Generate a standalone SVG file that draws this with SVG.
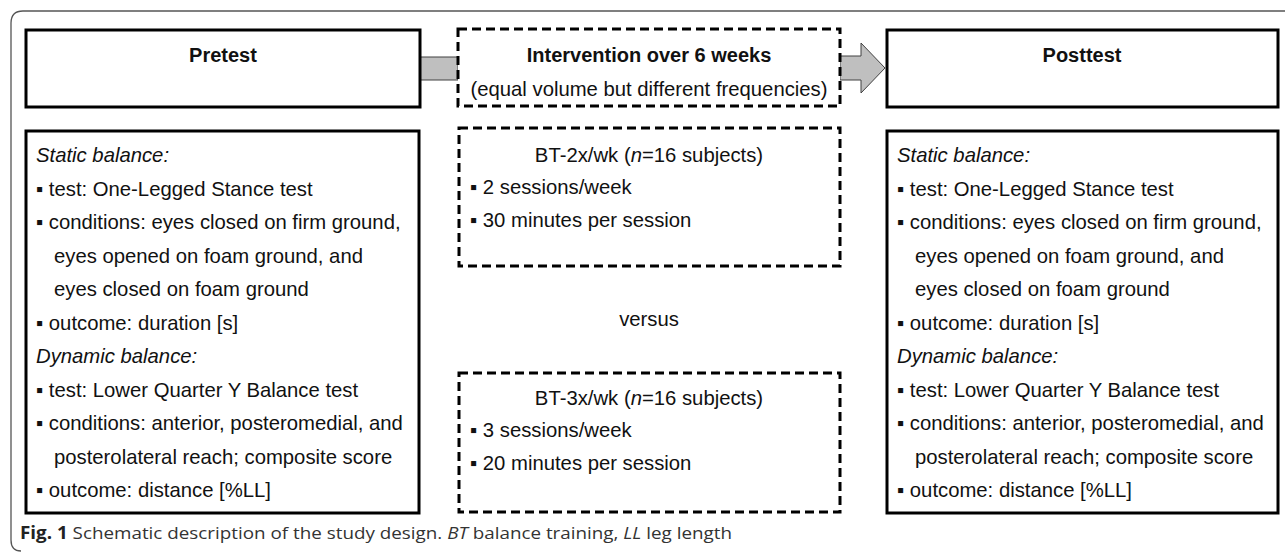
<svg xmlns="http://www.w3.org/2000/svg" width="1285" height="552" viewBox="0 0 1285 552">
<style>
.box{fill:#fff;stroke:#000;stroke-width:3}
.dash{fill:#fff;stroke:#000;stroke-width:3;stroke-dasharray:9,5}
.t{font-family:"Liberation Sans",Arial,sans-serif;font-size:20.3px;fill:#111}
.b{font-family:"Liberation Sans",Arial,sans-serif;font-size:20px;font-weight:bold;fill:#111}
.i{font-style:italic}
.c{text-anchor:middle}
.arr{fill:#bfbfbf;stroke:#404040;stroke-width:1}
.cap{font-family:"Open Sans","Noto Sans",sans-serif;font-size:17px;fill:#333}
</style>
<rect width="1285" height="552" fill="#fff"/>
<path d="M1285,11 H23 Q11,11 11,23 V540 Q11,551 21,551" fill="none" stroke="#555" stroke-width="1.3"/>
<g id="connectors">
<rect class="arr" x="420" y="57" width="38" height="23"/>
<polygon class="arr" points="840,56 861,56 861,43 885,68 861,93 861,80 840,80"/>
</g>
<g id="pretest">
<rect class="box" x="26" y="30" width="394" height="77"/>
<text class="b c" x="223" y="62">Pretest</text>
</g>
<g id="intervention">
<rect class="dash" x="458" y="29" width="382" height="77"/>
<text class="b c" x="649" y="62">Intervention over 6 weeks</text>
<text class="t c" x="649" y="96">(equal volume but different frequencies)</text>
</g>
<g id="posttest">
<rect class="box" x="887" y="30" width="391" height="77"/>
<text class="b c" x="1082" y="62">Posttest</text>
</g>
<g id="pretest-details">
<rect class="box" x="26" y="131" width="393" height="382"/>
<text class="t i" x="36" y="162">Static balance:</text>
<text class="t" x="36" y="196">▪ test: One-Legged Stance test</text>
<text class="t" x="36" y="229">▪ conditions: eyes closed on firm ground,</text>
<text class="t" x="54" y="263">eyes opened on foam ground, and</text>
<text class="t" x="54" y="296">eyes closed on foam ground</text>
<text class="t" x="36" y="330">▪ outcome: duration [s]</text>
<text class="t i" x="36" y="363">Dynamic balance:</text>
<text class="t" x="36" y="397">▪ test: Lower Quarter Y Balance test</text>
<text class="t" x="36" y="430">▪ conditions: anterior, posteromedial, and</text>
<text class="t" x="54" y="464">posterolateral reach; composite score</text>
<text class="t" x="36" y="497">▪ outcome: distance [%LL]</text>
</g>
<g id="bt2">
<rect class="dash" x="459" y="128" width="381" height="138"/>
<text class="t c" x="649" y="162">BT-2x/wk (<tspan class="i">n</tspan>=16 subjects)</text>
<text class="t" x="470" y="194">▪ 2 sessions/week</text>
<text class="t" x="470" y="227">▪ 30 minutes per session</text>
</g>
<text id="versus" class="t c" x="649" y="326">versus</text>
<g id="bt3">
<rect class="dash" x="459" y="373" width="381" height="139"/>
<text class="t c" x="649" y="405">BT-3x/wk (<tspan class="i">n</tspan>=16 subjects)</text>
<text class="t" x="470" y="437">▪ 3 sessions/week</text>
<text class="t" x="470" y="470">▪ 20 minutes per session</text>
</g>
<g id="posttest-details">
<rect class="box" x="887" y="131" width="391" height="382"/>
<text class="t i" x="897" y="162">Static balance:</text>
<text class="t" x="897" y="196">▪ test: One-Legged Stance test</text>
<text class="t" x="897" y="229">▪ conditions: eyes closed on firm ground,</text>
<text class="t" x="915" y="263">eyes opened on foam ground, and</text>
<text class="t" x="915" y="296">eyes closed on foam ground</text>
<text class="t" x="897" y="330">▪ outcome: duration [s]</text>
<text class="t i" x="897" y="363">Dynamic balance:</text>
<text class="t" x="897" y="397">▪ test: Lower Quarter Y Balance test</text>
<text class="t" x="897" y="430">▪ conditions: anterior, posteromedial, and</text>
<text class="t" x="915" y="464">posterolateral reach; composite score</text>
<text class="t" x="897" y="497">▪ outcome: distance [%LL]</text>
</g>
<text class="cap" x="20" y="539" textLength="712" lengthAdjust="spacingAndGlyphs"><tspan font-weight="bold" fill="#222">Fig. 1</tspan>  Schematic description of the study design. <tspan font-style="italic">BT</tspan> balance training, <tspan font-style="italic">LL</tspan> leg length</text>
</svg>
